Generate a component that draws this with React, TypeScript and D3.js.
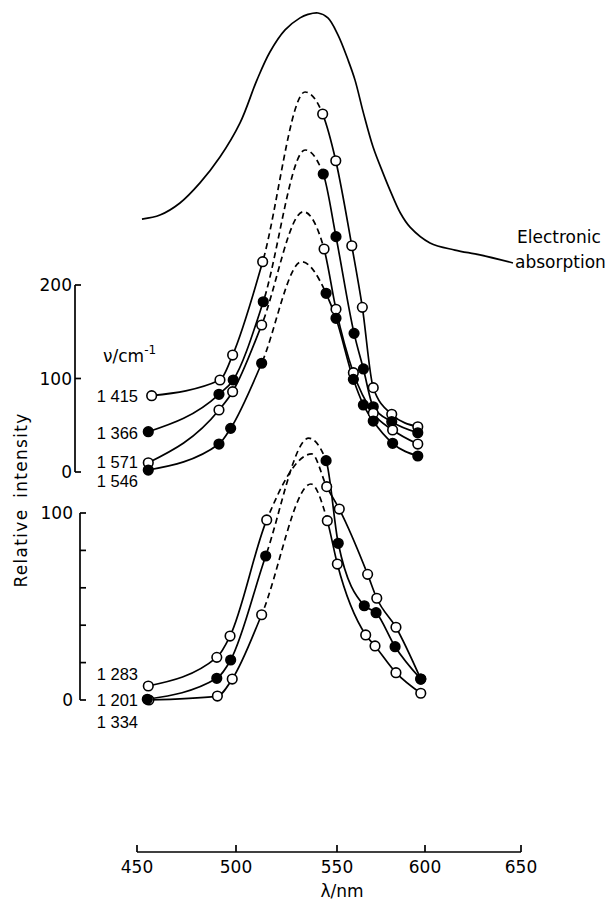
import React from "react";
import * as d3 from "d3";

// ---------- data ----------
const lambdaTicks = [450, 500, 550, 600, 650];
const upperTicks = [0, 100, 200];
const upperTickLabels = [0, 100, 200];
const lowerTicks = [0, 20, 40, 60, 80, 100];
const lowerTickLabels = [0, 100];

// electronic absorption (arbitrary units, peak = 1)
const absLambda = [452.5, 461.6, 471.7, 481.8, 491.9, 502.0, 510.4, 516.8, 524.3, 531.7, 535.6, 540.6, 545.5, 550.6, 556.3, 560.2, 565.0, 570.5, 576.1, 580.1, 586.0, 591.5, 602.6, 615.6, 628.6, 645.8];
const absValue = [0.282, 0.296, 0.338, 0.408, 0.498, 0.617, 0.767, 0.864, 0.941, 0.983, 0.995, 1.0, 0.983, 0.923, 0.836, 0.767, 0.652, 0.533, 0.443, 0.383, 0.303, 0.254, 0.199, 0.174, 0.157, 0.129];

// upper panel series: [lambda, relative intensity]
const s1415Left = [[457.4, 81.6], [491.9, 98.4], [498.3, 125.1], [513.2, 224.9]];
const s1415Apex = [534.2, 406.4];
const s1415Right = [[542.9, 382.9], [549.4, 332.9], [558.4, 242.0], [564.4, 176.1], [570.6, 90.2], [581.1, 61.7], [595.9, 48.4]];

const s1366Left = [[455.7, 43.1], [491.4, 83.1], [498.6, 98.4], [513.5, 182.1]];
const s1366Apex = [534.2, 344.4];
const s1366Right = [[543.2, 318.7], [549.5, 251.7], [559.7, 148.3], [565.0, 110.2], [570.6, 69.8], [581.1, 53.8], [595.9, 42.0]];

const s1571Left = [[455.7, 9.9], [491.4, 66.3], [498.3, 85.9], [512.7, 157.2]];
const s1571Apex = [533.3, 278.4];
const s1571Right = [[543.6, 238.5], [549.5, 174.0], [559.3, 106.2], [570.6, 62.8], [581.6, 44.9], [595.9, 29.9]];

const s1546Left = [[455.7, 2.1], [491.4, 29.9], [497.3, 46.7], [512.7, 116.3]];
const s1546Apex = [532.5, 224.9];
const s1546Right = [[544.6, 191.1], [549.5, 164.4], [559.3, 99.1], [565.0, 71.7], [570.6, 54.5], [581.6, 30.7], [595.9, 17.1]];

// lower panel series
const s1283Left = [[455.7, 7.5], [490.3, 22.8], [497.0, 34.2], [515.2, 96.3]];
const s1283Apex = [537.5, 131.6];
const s1283Right = [[544.9, 114.1], [551.3, 102.1], [567.4, 67.2], [572.6, 54.4], [583.5, 38.9], [597.6, 11.2]];

const s1201Left = [[455.2, 0.4], [490.3, 11.6], [497.3, 21.4], [514.7, 77.0]];
const s1201Apex = [536.0, 140.0];
const s1201Right = [[544.6, 128.0], [550.7, 83.8], [565.5, 50.4], [572.2, 46.7], [583.0, 28.5], [597.6, 11.2]];

const s1334Left = [[456.0, 0.0], [490.6, 2.1], [498.1, 11.2], [512.7, 45.6]];
const s1334Apex = [537.1, 115.5];
const s1334Right = [[545.2, 95.9], [550.2, 72.7], [566.3, 34.8], [571.6, 28.9], [583.5, 14.6], [597.6, 3.6]];

const upperSeries = [
  { id: "s1415", label: "1 415", filled: false, left: s1415Left, apex: s1415Apex, right: s1415Right },
  { id: "s1366", label: "1 366", filled: true, left: s1366Left, apex: s1366Apex, right: s1366Right },
  { id: "s1571", label: "1 571", filled: false, left: s1571Left, apex: s1571Apex, right: s1571Right },
  { id: "s1546", label: "1 546", filled: true, left: s1546Left, apex: s1546Apex, right: s1546Right },
];
const lowerSeries = [
  { id: "s1283", label: "1 283", filled: false, left: s1283Left, apex: s1283Apex, right: s1283Right },
  { id: "s1334", label: "1 334", filled: false, left: s1334Left, apex: s1334Apex, right: s1334Right },
  { id: "s1201", label: "1 201", filled: true, left: s1201Left, apex: s1201Apex, right: s1201Right },
];

// ---------- layout ----------
const W = 608;
const H = 901;
const FONT = "'DejaVu Sans', Verdana, sans-serif";
const LABEL_FONT = "'Liberation Sans', Arial, Helvetica, sans-serif";
const FS = 17;
const upperLabelDy: Record<string, number> = { s1415: 0, s1366: 1, s1571: -1, s1546: 11 };
const lowerLabelDy: Record<string, number> = { s1283: -12, s1201: 1, s1334: 22 };

const x = d3.scaleLinear().domain(lambdaTicks).range([137, 236, 337, 425, 521]);
const yUp = d3.scaleLinear().domain([0, 200]).range([472, 285]);
const yLow = d3.scaleLinear().domain([0, 100]).range([700, 513]);
const yAbs = d3.scaleLinear().domain([0, 1]).range([300, 13]);

type Pt = number[];

function SeriesPaths({ s, y }: { s: any; y: d3.ScaleLinear<number, number> }) {
  const all: Pt[] = [...s.left, s.apex, ...s.right];
  const line = d3
    .line<Pt>()
    .x((d) => x(d[0]))
    .y((d) => y(d[1]))
    .curve(d3.curveMonotoneX);
  const d = line(all) || "";
  const xl = x(s.left[s.left.length - 1][0]);
  const xr = x(s.right[0][0]);
  return (
    <g>
      <defs>
        <clipPath id={`${s.id}-a`}>
          <rect x={0} y={0} width={xl} height={H} />
        </clipPath>
        <clipPath id={`${s.id}-b`}>
          <rect x={xl} y={0} width={xr - xl} height={H} />
        </clipPath>
        <clipPath id={`${s.id}-c`}>
          <rect x={xr} y={0} width={W - xr} height={H} />
        </clipPath>
      </defs>
      <path d={d} fill="none" stroke="#000" strokeWidth={1.7} clipPath={`url(#${s.id}-a)`} />
      <path d={d} fill="none" stroke="#000" strokeWidth={1.7} strokeDasharray="6 4" clipPath={`url(#${s.id}-b)`} />
      <path d={d} fill="none" stroke="#000" strokeWidth={1.7} clipPath={`url(#${s.id}-c)`} />
    </g>
  );
}

function Markers({ s, y }: { s: any; y: d3.ScaleLinear<number, number> }) {
  const pts: Pt[] = [...s.left, ...s.right];
  return (
    <g>
      {pts.map((p, i) => (
        <circle
          key={i}
          cx={x(p[0])}
          cy={y(p[1])}
          r={4.8}
          fill={s.filled ? "#000" : "#fff"}
          stroke="#000"
          strokeWidth={1.6}
        />
      ))}
    </g>
  );
}

export default function App() {
  const absLine = d3
    .line<number>()
    .x((_, i) => x(absLambda[i]))
    .y((d) => yAbs(d))
    .curve(d3.curveCatmullRom.alpha(0.5));
  const absPath = absLine(absValue) || "";

  return (
    <svg
      width={W}
      height={H}
      viewBox={`0 0 ${W} ${H}`}
      style={{ position: "absolute", left: 0, top: 0, background: "#fff", display: "block" }}
      fontFamily={FONT}
      fontSize={FS}
    >
      <rect x={0} y={0} width={W} height={H} fill="#fff" />

      {/* electronic absorption */}
      <path d={absPath} fill="none" stroke="#000" strokeWidth={1.7} />
      <text x={517} y={243}>Electronic</text>
      <text x={515} y={268}>absorption</text>

      {/* upper y axis */}
      <g stroke="#000" strokeWidth={1.7}>
        <line x1={75} x2={75} y1={yUp(200)} y2={yUp(0)} />
        {upperTicks.map((t) => (
          <line key={t} x1={75} x2={81} y1={yUp(t)} y2={yUp(t)} />
        ))}
      </g>
      {upperTickLabels.map((t) => (
        <text key={t} x={72} y={yUp(t) + 6} textAnchor="end">{t}</text>
      ))}

      {/* lower y axis */}
      <g stroke="#000" strokeWidth={1.7}>
        <line x1={80} x2={80} y1={yLow(100)} y2={yLow(0)} />
        {lowerTicks.map((t) => (
          <line key={t} x1={80} x2={86} y1={yLow(t)} y2={yLow(t)} />
        ))}
      </g>
      {lowerTickLabels.map((t) => (
        <text key={t} x={73} y={yLow(t) + 6} textAnchor="end">{t}</text>
      ))}

      <text
        transform="translate(27,500) rotate(-90)"
        textAnchor="middle"
        letterSpacing={1.3}
        wordSpacing={4}
      >
        Relative intensity
      </text>

      <text x={103} y={362}>
        ν/cm
        <tspan dy={-8} fontSize={12}>-1</tspan>
      </text>

      {/* series */}
      {upperSeries.map((s) => (
        <SeriesPaths key={s.id} s={s} y={yUp} />
      ))}
      {lowerSeries.map((s) => (
        <SeriesPaths key={s.id} s={s} y={yLow} />
      ))}
      {upperSeries.map((s) => (
        <Markers key={s.id} s={s} y={yUp} />
      ))}
      {lowerSeries.map((s) => (
        <Markers key={s.id} s={s} y={yLow} />
      ))}

      <g fontFamily={LABEL_FONT} fontSize={16.5}>
        {upperSeries.map((s) => (
          <text key={s.id} x={138} y={yUp(s.left[0][1]) + 6 + upperLabelDy[s.id]} textAnchor="end">
            {s.label}
          </text>
        ))}
        {lowerSeries.map((s) => (
          <text key={s.id} x={138} y={yLow(s.left[0][1]) + 6 + lowerLabelDy[s.id]} textAnchor="end">
            {s.label}
          </text>
        ))}
      </g>

      {/* x axis */}
      <g stroke="#000" strokeWidth={1.7}>
        <line x1={x(450)} x2={x(650)} y1={852} y2={852} />
        {lambdaTicks.map((t) => (
          <line key={t} x1={x(t)} x2={x(t)} y1={852} y2={845} />
        ))}
      </g>
      {lambdaTicks.map((t) => (
        <text key={t} x={x(t)} y={873} textAnchor="middle">{t}</text>
      ))}
      <text x={342} y={897} textAnchor="middle">λ/nm</text>
    </svg>
  );
}
